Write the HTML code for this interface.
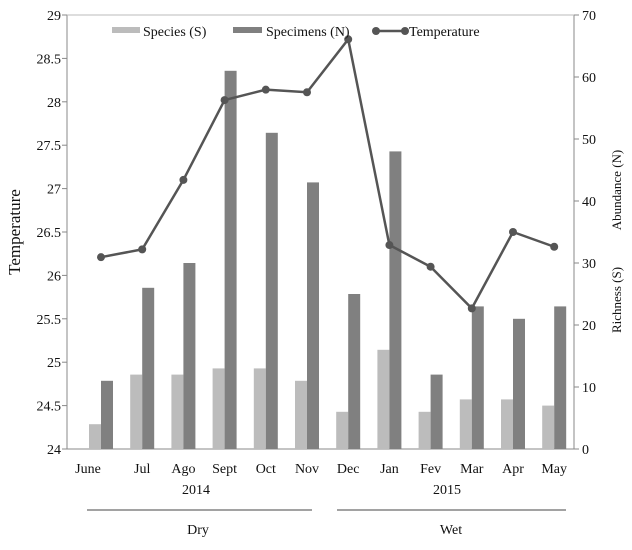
<!DOCTYPE html>
<html><head><meta charset="utf-8"><style>
body{margin:0;background:#fff;}
svg text{font-family:"Liberation Serif",serif;fill:#111;}
</style></head><body>
<svg id="chart" width="632" height="545" xmlns="http://www.w3.org/2000/svg" font-family="Liberation Serif, serif">
<g id="axes"></g><g id="bars"></g><g id="line"></g>
<text x="20" y="232" font-size="17" text-anchor="middle" transform="rotate(-90 20 232)">Temperature</text>
<text x="621" y="190" font-size="13" text-anchor="middle" transform="rotate(-90 621 190)">Abundance (N)</text>
<text x="621" y="300" font-size="13" text-anchor="middle" transform="rotate(-90 621 300)">Richness (S)</text>
<text x="196" y="494" font-size="14" text-anchor="middle">2014</text>
<text x="447" y="494" font-size="14" text-anchor="middle">2015</text>
<line x1="87" y1="510" x2="312" y2="510" stroke="#444"/>
<line x1="337" y1="510" x2="566" y2="510" stroke="#444"/>
<text x="198" y="534" font-size="14" text-anchor="middle">Dry</text>
<text x="451" y="534" font-size="14" text-anchor="middle">Wet</text>
<g>
<rect x="112" y="27" width="28" height="6" fill="#bcbcbc"/>
<text x="143" y="36" font-size="14">Species (S)</text>
<rect x="233" y="27" width="29" height="6" fill="#808080"/>
<text x="266" y="36" font-size="14">Specimens (N)</text>
<line x1="376" y1="31" x2="405" y2="31" stroke="#555" stroke-width="2.5"/>
<circle cx="376" cy="31" r="4" fill="#555"/>
<circle cx="405" cy="31" r="4" fill="#555"/>
<text x="409" y="36" font-size="14">Temperature</text>
</g>
</svg>
<script>
const months=["June","Jul","Ago","Sept","Oct","Nov","Dec","Jan","Fev","Mar","Apr","May"];
const species=[4,12,12,13,13,11,6,16,6,8,8,7];
const specimens=[11,26,30,61,51,43,25,48,12,23,21,23];
const temperature=[26.21,26.3,27.1,28.02,28.14,28.11,28.72,26.35,26.1,25.62,26.5,26.33];
const leftTicks=["24","24.5","25","25.5","26","26.5","27","27.5","28","28.5","29"];
const rightTicks=[0,10,20,30,40,50,60,70];
const NS="http://www.w3.org/2000/svg";
const plotTop=15,plotBot=449,L=67,R=574;
const yT=v=>plotBot-(v-24)/5*(plotBot-plotTop);
const yR=v=>plotBot-v/70*(plotBot-plotTop);
const xC=i=>101+i*41.2;
function mk(tag,attrs,parent){const e=document.createElementNS(NS,tag);for(const k in attrs)e.setAttribute(k,attrs[k]);document.getElementById(parent).appendChild(e);return e;}
const FF="Liberation Serif, serif";
let e=mk("line",{x1:L,y1:plotTop,x2:L,y2:plotBot,stroke:"#888"},"axes");

e=mk("line",{x1:R,y1:plotTop,x2:R,y2:plotBot,stroke:"#888"},"axes");

e=mk("line",{x1:L,y1:plotBot,x2:R,y2:plotBot,stroke:"#888"},"axes");

e=mk("line",{x1:L,y1:plotTop,x2:R,y2:plotTop,stroke:"#bbb"},"axes");

leftTicks.forEach(t=>{const y=yT(parseFloat(t));
 let l=mk("line",{x1:L-5,y1:y,x2:L,y2:y,stroke:"#888"},"axes");
 
 let tx=mk("text",{x:L-6,y:y+5,"font-size":14,"font-family":FF,"text-anchor":"end"},"axes");tx.textContent=t;
 });
rightTicks.forEach(t=>{const y=yR(t);
 let l=mk("line",{x1:R,y1:y,x2:R+5,y2:y,stroke:"#888"},"axes");
 
 let tx=mk("text",{x:R+8,y:y+5,"font-size":14,"font-family":FF},"axes");tx.textContent=t;
 });
months.forEach((m,i)=>{const c=xC(i);
 let tx=mk("text",{x:c-(i===0?13:0),y:473,"font-size":14,"font-family":FF,"text-anchor":"middle"},"axes");tx.textContent=m;
 
 let b=mk("rect",{x:c-12,y:yR(species[i]),width:12,height:plotBot-yR(species[i]),fill:"#bcbcbc"},"bars");
 
 b=mk("rect",{x:c,y:yR(specimens[i]),width:12,height:plotBot-yR(specimens[i]),fill:"#808080"},"bars");
 });
const pts=temperature.map((v,i)=>xC(i)+","+yT(v)).join(" ");
let pl=mk("polyline",{points:pts,fill:"none",stroke:"#555","stroke-width":2.5},"line");

temperature.forEach((v,i)=>{let c=mk("circle",{cx:xC(i),cy:yT(v),r:4,fill:"#555"},"line");
 });
</script>
</body></html>
